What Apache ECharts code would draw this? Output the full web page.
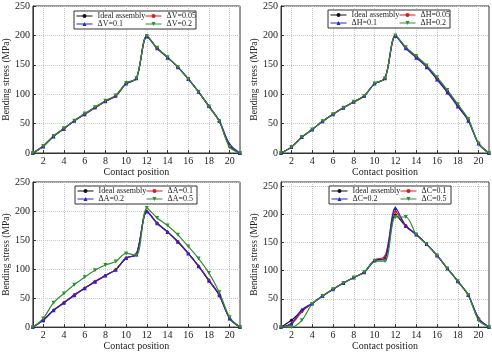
<!DOCTYPE html>
<html>
<head>
<meta charset="UTF-8">
<script src="https://cdn.jsdelivr.net/npm/echarts@6/dist/echarts.min.js"></script>
<style>
  html, body { margin: 0; padding: 0; background: #fff; }
  #chart { width: 492px; height: 352px; }
</style>
</head>
<body>
<div id="chart"></div>
<script>
// contact positions and tick labels
var contact = [1, 2, 3, 4, 5, 6, 7, 8, 9, 10, 11, 12, 13, 14, 15, 16, 17, 18, 19, 20, 21];
var xTicks = [2, 4, 6, 8, 10, 12, 14, 16, 18, 20];

// panel a: vertical error
var namesV = ['Ideal assembly', 'ΔV=0.05', 'ΔV=0.1', 'ΔV=0.2'];
var vIdeal = [0, 12, 29, 42, 55, 66, 77, 88, 97, 118, 127, 199, 178, 163, 146, 126, 104, 79, 54, 12, 0];
var v005   = [0, 12, 29, 42, 55, 66, 77, 88, 97, 118, 127, 199, 178, 163, 146, 126, 104, 79, 54, 11, 0];
var v01    = [0, 11, 28, 41, 55, 66, 78, 88, 98, 118, 127, 198, 178, 162, 146, 126, 104, 80, 55, 15, 0];
var v02    = [0, 12, 29, 42, 55, 67, 78, 89, 98, 119, 127, 199, 179, 163, 146, 126, 104, 79, 54, 10, 0];

// panel b: horizontal error
var namesH = ['Ideal assembly', 'ΔH=0.05', 'ΔH=0.1', 'ΔH=0.2'];
var hIdeal = [0, 10, 27, 40, 54, 66, 77, 87, 97, 118, 127, 199, 179, 164, 148, 127, 105, 81, 57, 16, 0];
var h005   = [0, 10, 27, 40, 54, 66, 77, 87, 97, 118, 127, 199, 179, 163, 147, 126, 104, 80, 56, 16, 0];
var h01    = [0, 10, 27, 40, 54, 66, 77, 87, 97, 118, 127, 199, 178, 162, 146, 125, 103, 79, 55, 16, 0];
var h02    = [0, 10, 27, 40, 54, 66, 77, 87, 97, 118, 127, 200, 180, 165, 149, 129, 107, 83, 58, 16, 0];

// panel c: angular error
var namesA = ['Ideal assembly', 'ΔA=0.1', 'ΔA=0.2', 'ΔA=0.5'];
var aIdeal = [0, 12, 29, 42, 55, 67, 78, 89, 99, 119, 126, 199, 179, 164, 147, 127, 105, 80, 55, 15, 0];
var a01    = [0, 12, 29, 42, 56, 67, 79, 89, 99, 119, 126, 200, 179, 164, 147, 127, 105, 81, 56, 15, 0];
var a02    = [0, 12, 29, 42, 55, 67, 78, 89, 99, 119, 125, 199, 179, 164, 147, 127, 105, 80, 55, 15, 0];
var a05    = [0, 15, 42, 58, 73, 86, 98, 107, 113, 127, 124, 205, 188, 175, 159, 139, 118, 93, 60, 17, 0];

// panel d: centre distance error
var namesC = ['Ideal assembly', 'ΔC=0.1', 'ΔC=0.2', 'ΔC=0.5'];
var cIdeal = [0, 12, 29, 42, 55, 67, 78, 88, 97, 118, 121, 199, 179, 164, 147, 127, 104, 81, 57, 15, 0];
var c01    = [0, 5, 27, 42, 55, 67, 78, 88, 97, 119, 125, 205, 180, 164, 147, 127, 104, 81, 57, 15, 0];
var c02    = [0, 7, 31, 42, 55, 67, 78, 88, 97, 118, 122, 211, 179, 164, 147, 127, 104, 81, 57, 15, 0];
var c05    = [0, 0, 12, 41, 55, 67, 78, 88, 97, 117, 117, 195, 195, 164, 147, 127, 104, 81, 57, 12, 0];

var colors = ['#111111', '#e3141c', '#2323d4', '#2f8f2f'];
var symbols = ['circle', 'circle', 'triangle', 'triangle'];
var rotates = [0, 0, 0, 180];
var font = 'Liberation Serif';

var panels = [
  { names: namesV, data: [vIdeal, v005, v01, v02], grid: { left: 29, top: 6, width: 211, height: 147 }, yMax: 250, box: [74, 11] },
  { names: namesH, data: [hIdeal, h005, h01, h02], grid: { left: 281, top: 6, width: 208, height: 147 }, yMax: 250, box: [328, 10] },
  { names: namesA, data: [aIdeal, a01, a02, a05], grid: { left: 29, top: 182, width: 211, height: 147 }, yMax: 250, box: [75, 186] },
  { names: namesC, data: [cIdeal, c01, c02, c05], grid: { left: 281, top: 182, width: 208, height: 147 }, yMax: 257, box: [329, 186] }
];

var grids = [], xAxes = [], yAxes = [], series = [], legends = [], boxes = [];

panels.forEach(function (p, i) {
  grids.push(Object.assign({ show: true, borderColor: '#333', borderWidth: 1 }, p.grid));
  xAxes.push({
    type: 'value', gridIndex: i, min: 1, max: 21,
    name: 'Contact position', nameLocation: 'middle', nameGap: 13,
    nameTextStyle: { fontFamily: font, fontSize: 10, color: '#222' },
    axisLine: { lineStyle: { color: '#333' } },
    axisTick: { inside: true, length: 3, customValues: xTicks, lineStyle: { color: '#333' } },
    axisLabel: { customValues: xTicks, fontFamily: font, fontSize: 10, color: '#222', margin: 3 },
    splitLine: { show: true, lineStyle: { color: '#c8c8c8', type: 'dotted', width: 1 } }
  });
  yAxes.push({
    type: 'value', gridIndex: i, min: 0, max: p.yMax, interval: 50,
    name: 'Bending stress (MPa)', nameLocation: 'middle', nameGap: 19,
    nameTextStyle: { fontFamily: font, fontSize: 9.5, color: '#222' },
    axisLine: { lineStyle: { color: '#333' } },
    axisTick: { inside: true, length: 3, lineStyle: { color: '#333' } },
    axisLabel: { fontFamily: font, fontSize: 10, color: '#222', margin: 3, showMaxLabel: p.yMax === 250 },
    splitLine: { show: true, lineStyle: { color: '#c8c8c8', type: 'dotted', width: 1 } }
  });
  p.names.forEach(function (nm, k) {
    series.push({
      name: nm, type: 'line', xAxisIndex: i, yAxisIndex: i,
      data: contact.map(function (x, j) { return [x, p.data[k][j]]; }),
      smooth: 0.3,
      symbol: symbols[k], symbolSize: k >= 2 ? 4 : 3, symbolRotate: rotates[k],
      lineStyle: { color: colors[k], width: 1.2 },
      itemStyle: { color: colors[k] }
    });
  });
  // two legend columns inside one framed box
  var bx = p.box[0], by = p.box[1];
  var legCommon = {
    orient: 'vertical', top: by + 1, padding: 0, itemGap: 0,
    itemWidth: 16, itemHeight: 5, selectedMode: false,
    lineStyle: { width: 1 },
    textStyle: { fontFamily: font, fontSize: 8, color: '#222', lineHeight: 8 }
  };
  legends.push(Object.assign({ data: [p.names[0], p.names[2]], left: bx + 2 }, legCommon));
  legends.push(Object.assign({ data: [p.names[1], p.names[3]], left: bx + 71 }, legCommon));
  boxes.push({
    type: 'rect', z: 3,
    shape: { x: bx, y: by, width: 122, height: 18 },
    style: { fill: '#fff', stroke: '#333', lineWidth: 1 }
  });
});

var chart = echarts.init(document.getElementById('chart'), null, { renderer: 'canvas' });
chart.setOption({
  animation: false,
  backgroundColor: '#fff',
  grid: grids,
  xAxis: xAxes,
  yAxis: yAxes,
  legend: legends,
  graphic: boxes,
  series: series
});
</script>
</body>
</html>
